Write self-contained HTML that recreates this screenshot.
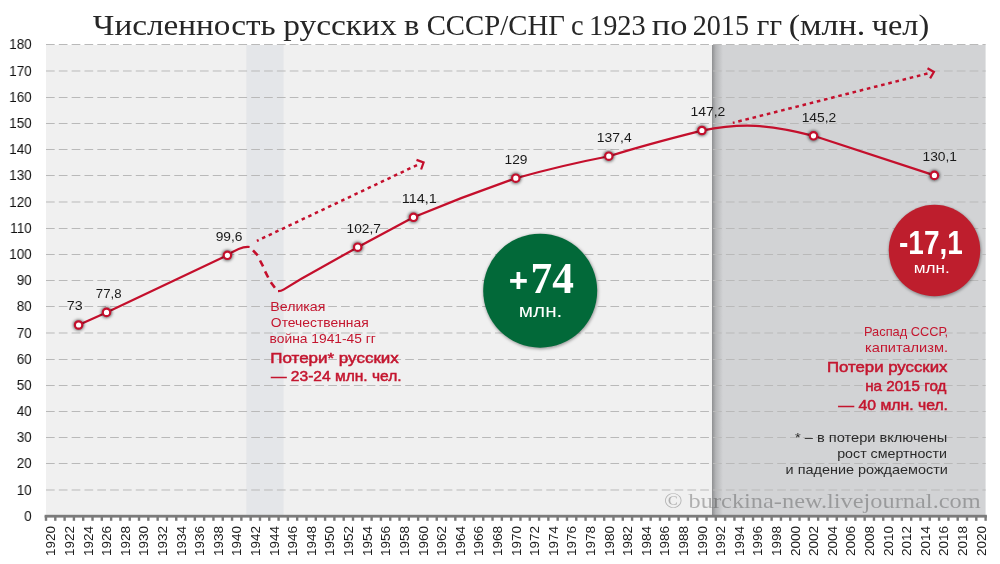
<!DOCTYPE html>
<html><head><meta charset="utf-8"><title>Численность русских в СССР/СНГ</title>
<style>
html,body{margin:0;padding:0;background:#fff;}
body{width:1000px;height:564px;overflow:hidden;position:relative;}
svg{display:block;position:absolute;left:0;top:0;will-change:transform;}
text{white-space:pre;}
</style></head><body>
<svg width="1000" height="564" viewBox="0 0 1000 564">
<defs>
<linearGradient id="shade" x1="0" x2="1" y1="0" y2="0">
<stop offset="0" stop-color="#8e8f91"/>
<stop offset="0.35" stop-color="#b4b5b7"/>
<stop offset="1" stop-color="#d2d3d5"/>
</linearGradient>
<filter id="mshadow" x="-1" y="-1" width="3" height="3"><feGaussianBlur stdDeviation="1.6"/></filter>
<filter id="cshadow" x="-0.2" y="-0.2" width="1.4" height="1.4"><feGaussianBlur stdDeviation="1.5"/></filter>
</defs>
<g id="bg">

<rect x="46" y="45" width="939.5" height="470.9" fill="#f0f0f0"/>
<rect x="246.3" y="45" width="37.3" height="470.9" fill="#e4e6e9"/>
<rect x="712" y="45" width="273.5" height="470.9" fill="#d2d3d5"/>
<rect x="712" y="45" width="11" height="470.9" fill="url(#shade)"/>
<g stroke="#b9b9b9" stroke-width="1" stroke-dasharray="8.7 4.128"><line x1="46" x2="985.7" y1="490.0" y2="490.0"/><line x1="46" x2="985.7" y1="463.5" y2="463.5"/><line x1="46" x2="985.7" y1="437.5" y2="437.5"/><line x1="46" x2="985.7" y1="411.5" y2="411.5"/><line x1="46" x2="985.7" y1="385.5" y2="385.5"/><line x1="46" x2="985.7" y1="359.5" y2="359.5"/><line x1="46" x2="985.7" y1="333.0" y2="333.0"/><line x1="46" x2="985.7" y1="306.5" y2="306.5"/><line x1="46" x2="985.7" y1="280.5" y2="280.5"/><line x1="46" x2="985.7" y1="254.5" y2="254.5"/><line x1="46" x2="985.7" y1="228.5" y2="228.5"/><line x1="46" x2="985.7" y1="202.0" y2="202.0"/><line x1="46" x2="985.7" y1="175.5" y2="175.5"/><line x1="46" x2="985.7" y1="149.5" y2="149.5"/><line x1="46" x2="985.7" y1="123.5" y2="123.5"/><line x1="46" x2="985.7" y1="97.5" y2="97.5"/><line x1="46" x2="985.7" y1="71.0" y2="71.0"/><line x1="46" x2="985.7" y1="44.5" y2="44.5"/></g>
</g>
<text id="wm" x="663.98" y="508" font-family='"Liberation Serif","Times New Roman",serif' font-size="22" font-weight="normal" fill="#000" fill-opacity="0.27" textLength="316.72" lengthAdjust="spacingAndGlyphs">© burckina-new.livejournal.com</text>
<g id="axis">
<rect x="44.6" y="514.8" width="942.3" height="2.8" fill="#7b7b7b"/>
<g fill="#7b7b7b"><rect x="44.80" y="516" width="2.4" height="4.8"/><rect x="54.10" y="516" width="2.4" height="4.8"/><rect x="63.41" y="516" width="2.4" height="4.8"/><rect x="72.71" y="516" width="2.4" height="4.8"/><rect x="82.01" y="516" width="2.4" height="4.8"/><rect x="91.31" y="516" width="2.4" height="4.8"/><rect x="100.62" y="516" width="2.4" height="4.8"/><rect x="109.92" y="516" width="2.4" height="4.8"/><rect x="119.22" y="516" width="2.4" height="4.8"/><rect x="128.53" y="516" width="2.4" height="4.8"/><rect x="137.83" y="516" width="2.4" height="4.8"/><rect x="147.13" y="516" width="2.4" height="4.8"/><rect x="156.44" y="516" width="2.4" height="4.8"/><rect x="165.74" y="516" width="2.4" height="4.8"/><rect x="175.04" y="516" width="2.4" height="4.8"/><rect x="184.35" y="516" width="2.4" height="4.8"/><rect x="193.65" y="516" width="2.4" height="4.8"/><rect x="202.95" y="516" width="2.4" height="4.8"/><rect x="212.25" y="516" width="2.4" height="4.8"/><rect x="221.56" y="516" width="2.4" height="4.8"/><rect x="230.86" y="516" width="2.4" height="4.8"/><rect x="240.16" y="516" width="2.4" height="4.8"/><rect x="249.47" y="516" width="2.4" height="4.8"/><rect x="258.77" y="516" width="2.4" height="4.8"/><rect x="268.07" y="516" width="2.4" height="4.8"/><rect x="277.38" y="516" width="2.4" height="4.8"/><rect x="286.68" y="516" width="2.4" height="4.8"/><rect x="295.98" y="516" width="2.4" height="4.8"/><rect x="305.28" y="516" width="2.4" height="4.8"/><rect x="314.59" y="516" width="2.4" height="4.8"/><rect x="323.89" y="516" width="2.4" height="4.8"/><rect x="333.19" y="516" width="2.4" height="4.8"/><rect x="342.50" y="516" width="2.4" height="4.8"/><rect x="351.80" y="516" width="2.4" height="4.8"/><rect x="361.10" y="516" width="2.4" height="4.8"/><rect x="370.41" y="516" width="2.4" height="4.8"/><rect x="379.71" y="516" width="2.4" height="4.8"/><rect x="389.01" y="516" width="2.4" height="4.8"/><rect x="398.31" y="516" width="2.4" height="4.8"/><rect x="407.62" y="516" width="2.4" height="4.8"/><rect x="416.92" y="516" width="2.4" height="4.8"/><rect x="426.22" y="516" width="2.4" height="4.8"/><rect x="435.53" y="516" width="2.4" height="4.8"/><rect x="444.83" y="516" width="2.4" height="4.8"/><rect x="454.13" y="516" width="2.4" height="4.8"/><rect x="463.44" y="516" width="2.4" height="4.8"/><rect x="472.74" y="516" width="2.4" height="4.8"/><rect x="482.04" y="516" width="2.4" height="4.8"/><rect x="491.34" y="516" width="2.4" height="4.8"/><rect x="500.65" y="516" width="2.4" height="4.8"/><rect x="509.95" y="516" width="2.4" height="4.8"/><rect x="519.25" y="516" width="2.4" height="4.8"/><rect x="528.56" y="516" width="2.4" height="4.8"/><rect x="537.86" y="516" width="2.4" height="4.8"/><rect x="547.16" y="516" width="2.4" height="4.8"/><rect x="556.46" y="516" width="2.4" height="4.8"/><rect x="565.77" y="516" width="2.4" height="4.8"/><rect x="575.07" y="516" width="2.4" height="4.8"/><rect x="584.37" y="516" width="2.4" height="4.8"/><rect x="593.68" y="516" width="2.4" height="4.8"/><rect x="602.98" y="516" width="2.4" height="4.8"/><rect x="612.28" y="516" width="2.4" height="4.8"/><rect x="621.59" y="516" width="2.4" height="4.8"/><rect x="630.89" y="516" width="2.4" height="4.8"/><rect x="640.19" y="516" width="2.4" height="4.8"/><rect x="649.50" y="516" width="2.4" height="4.8"/><rect x="658.80" y="516" width="2.4" height="4.8"/><rect x="668.10" y="516" width="2.4" height="4.8"/><rect x="677.40" y="516" width="2.4" height="4.8"/><rect x="686.71" y="516" width="2.4" height="4.8"/><rect x="696.01" y="516" width="2.4" height="4.8"/><rect x="705.31" y="516" width="2.4" height="4.8"/><rect x="714.62" y="516" width="2.4" height="4.8"/><rect x="723.92" y="516" width="2.4" height="4.8"/><rect x="733.22" y="516" width="2.4" height="4.8"/><rect x="742.52" y="516" width="2.4" height="4.8"/><rect x="751.83" y="516" width="2.4" height="4.8"/><rect x="761.13" y="516" width="2.4" height="4.8"/><rect x="770.43" y="516" width="2.4" height="4.8"/><rect x="779.74" y="516" width="2.4" height="4.8"/><rect x="789.04" y="516" width="2.4" height="4.8"/><rect x="798.34" y="516" width="2.4" height="4.8"/><rect x="807.65" y="516" width="2.4" height="4.8"/><rect x="816.95" y="516" width="2.4" height="4.8"/><rect x="826.25" y="516" width="2.4" height="4.8"/><rect x="835.56" y="516" width="2.4" height="4.8"/><rect x="844.86" y="516" width="2.4" height="4.8"/><rect x="854.16" y="516" width="2.4" height="4.8"/><rect x="863.46" y="516" width="2.4" height="4.8"/><rect x="872.77" y="516" width="2.4" height="4.8"/><rect x="882.07" y="516" width="2.4" height="4.8"/><rect x="891.37" y="516" width="2.4" height="4.8"/><rect x="900.68" y="516" width="2.4" height="4.8"/><rect x="909.98" y="516" width="2.4" height="4.8"/><rect x="919.28" y="516" width="2.4" height="4.8"/><rect x="928.59" y="516" width="2.4" height="4.8"/><rect x="937.89" y="516" width="2.4" height="4.8"/><rect x="947.19" y="516" width="2.4" height="4.8"/><rect x="956.49" y="516" width="2.4" height="4.8"/><rect x="965.80" y="516" width="2.4" height="4.8"/><rect x="975.10" y="516" width="2.4" height="4.8"/><rect x="984.40" y="516" width="2.4" height="4.8"/></g>
<g font-family='"Liberation Sans",Arial,sans-serif' font-size="14.4" fill="#111" text-anchor="end" transform="scale(0.94,1)"><text x="33.72" y="520.75">0</text><text x="33.72" y="494.55">10</text><text x="33.72" y="468.05">20</text><text x="33.72" y="442.05">30</text><text x="33.72" y="416.05">40</text><text x="33.72" y="390.05">50</text><text x="33.72" y="364.05">60</text><text x="33.72" y="337.55">70</text><text x="33.72" y="311.05">80</text><text x="33.72" y="285.05">90</text><text x="33.72" y="259.05">100</text><text x="33.72" y="233.05">110</text><text x="33.72" y="206.55">120</text><text x="33.72" y="180.05">130</text><text x="33.72" y="154.05">140</text><text x="33.72" y="128.05">150</text><text x="33.72" y="102.05">160</text><text x="33.72" y="75.55">170</text><text x="33.72" y="49.05">180</text></g>
<g font-family='"Liberation Sans",Arial,sans-serif' font-size="13.5" fill="#1a1a1a" text-anchor="end"><text transform="translate(55.4,525.9) rotate(-90)">1920</text><text transform="translate(74.0,525.9) rotate(-90)">1922</text><text transform="translate(92.6,525.9) rotate(-90)">1924</text><text transform="translate(111.2,525.9) rotate(-90)">1926</text><text transform="translate(129.8,525.9) rotate(-90)">1928</text><text transform="translate(148.4,525.9) rotate(-90)">1930</text><text transform="translate(167.0,525.9) rotate(-90)">1932</text><text transform="translate(185.6,525.9) rotate(-90)">1934</text><text transform="translate(204.2,525.9) rotate(-90)">1936</text><text transform="translate(222.8,525.9) rotate(-90)">1938</text><text transform="translate(241.4,525.9) rotate(-90)">1940</text><text transform="translate(260.0,525.9) rotate(-90)">1942</text><text transform="translate(278.6,525.9) rotate(-90)">1944</text><text transform="translate(297.2,525.9) rotate(-90)">1946</text><text transform="translate(315.8,525.9) rotate(-90)">1948</text><text transform="translate(334.4,525.9) rotate(-90)">1950</text><text transform="translate(353.0,525.9) rotate(-90)">1952</text><text transform="translate(371.7,525.9) rotate(-90)">1954</text><text transform="translate(390.3,525.9) rotate(-90)">1956</text><text transform="translate(408.9,525.9) rotate(-90)">1958</text><text transform="translate(427.5,525.9) rotate(-90)">1960</text><text transform="translate(446.1,525.9) rotate(-90)">1962</text><text transform="translate(464.7,525.9) rotate(-90)">1964</text><text transform="translate(483.3,525.9) rotate(-90)">1966</text><text transform="translate(501.9,525.9) rotate(-90)">1968</text><text transform="translate(520.5,525.9) rotate(-90)">1970</text><text transform="translate(539.1,525.9) rotate(-90)">1972</text><text transform="translate(557.7,525.9) rotate(-90)">1974</text><text transform="translate(576.3,525.9) rotate(-90)">1976</text><text transform="translate(594.9,525.9) rotate(-90)">1978</text><text transform="translate(613.5,525.9) rotate(-90)">1980</text><text transform="translate(632.1,525.9) rotate(-90)">1982</text><text transform="translate(650.7,525.9) rotate(-90)">1984</text><text transform="translate(669.3,525.9) rotate(-90)">1986</text><text transform="translate(688.0,525.9) rotate(-90)">1988</text><text transform="translate(706.6,525.9) rotate(-90)">1990</text><text transform="translate(725.2,525.9) rotate(-90)">1992</text><text transform="translate(743.8,525.9) rotate(-90)">1994</text><text transform="translate(762.4,525.9) rotate(-90)">1996</text><text transform="translate(781.0,525.9) rotate(-90)">1998</text><text transform="translate(799.6,525.9) rotate(-90)">2000</text><text transform="translate(818.2,525.9) rotate(-90)">2002</text><text transform="translate(836.8,525.9) rotate(-90)">2004</text><text transform="translate(855.4,525.9) rotate(-90)">2006</text><text transform="translate(874.0,525.9) rotate(-90)">2008</text><text transform="translate(892.6,525.9) rotate(-90)">2010</text><text transform="translate(911.2,525.9) rotate(-90)">2012</text><text transform="translate(929.8,525.9) rotate(-90)">2014</text><text transform="translate(948.4,525.9) rotate(-90)">2016</text><text transform="translate(967.0,525.9) rotate(-90)">2018</text><text transform="translate(985.7,525.9) rotate(-90)">2020</text></g>
</g><g id="lines">
<path d="M78.56,325.00 L106.47,312.42 L227.41,255.29 C235,250 241,246.6 248,246.8 L249.6,247.0" fill="none" stroke="#c40f2c" stroke-width="2.25" stroke-linecap="butt" stroke-linejoin="round"/>
<path d="M253.0,250.3 L257.7,255.4 M260.0,260.5 L263.1,266.3 M265.1,271.4 L268.2,277.5 M270.8,282.2 L274.9,287.7" fill="none" stroke="#c40f2c" stroke-width="2.6"/>
<path d="M278,291.1 C280,291.2 281.5,290.8 283.5,289.6 L301.4,278.8 L357.65,247.16 L413.47,217.29 Q463.99,196.08 515.80,178.24 Q561.86,165.29 608.83,156.23 Q645.67,144.61 701.86,130.55 C741.9,122.65 768.1,124.3 813.50,135.79 L934.44,175.36" fill="none" stroke="#c40f2c" stroke-width="2.25" stroke-linecap="butt" stroke-linejoin="round"/>
<path d="M256.9,240.9 L417.2,165.0" fill="none" stroke="#c40f2c" stroke-width="2.5" stroke-dasharray="3.5 3.8" stroke-dashoffset="1.55"/>
<path d="M416.5,159.9 L423.6,162.4 L421.1,169.5" fill="none" stroke="#c40f2c" stroke-width="2.2" stroke-linejoin="miter"/>
<path d="M732.8,122.85 L927.6,73.5" fill="none" stroke="#c40f2c" stroke-width="2.5" stroke-dasharray="3.6 3.77" stroke-dashoffset="1.75"/>
<path d="M927.5,68.2 L933.9,72 L930.1,78.4" fill="none" stroke="#c40f2c" stroke-width="2.2" stroke-linejoin="miter"/>
<circle cx="78.6" cy="325.0" r="5.6" fill="#000" fill-opacity="0.55" filter="url(#mshadow)"/><circle cx="78.6" cy="325.0" r="3.7" fill="#fff" stroke="#c40f2c" stroke-width="2.2"/><circle cx="106.5" cy="312.4" r="5.6" fill="#000" fill-opacity="0.55" filter="url(#mshadow)"/><circle cx="106.5" cy="312.4" r="3.7" fill="#fff" stroke="#c40f2c" stroke-width="2.2"/><circle cx="227.4" cy="255.3" r="5.6" fill="#000" fill-opacity="0.55" filter="url(#mshadow)"/><circle cx="227.4" cy="255.3" r="3.7" fill="#fff" stroke="#c40f2c" stroke-width="2.2"/><circle cx="357.7" cy="247.2" r="5.6" fill="#000" fill-opacity="0.55" filter="url(#mshadow)"/><circle cx="357.7" cy="247.2" r="3.7" fill="#fff" stroke="#c40f2c" stroke-width="2.2"/><circle cx="413.5" cy="217.3" r="5.6" fill="#000" fill-opacity="0.55" filter="url(#mshadow)"/><circle cx="413.5" cy="217.3" r="3.7" fill="#fff" stroke="#c40f2c" stroke-width="2.2"/><circle cx="515.8" cy="178.2" r="5.6" fill="#000" fill-opacity="0.55" filter="url(#mshadow)"/><circle cx="515.8" cy="178.2" r="3.7" fill="#fff" stroke="#c40f2c" stroke-width="2.2"/><circle cx="608.8" cy="156.2" r="5.6" fill="#000" fill-opacity="0.55" filter="url(#mshadow)"/><circle cx="608.8" cy="156.2" r="3.7" fill="#fff" stroke="#c40f2c" stroke-width="2.2"/><circle cx="701.9" cy="130.5" r="5.6" fill="#000" fill-opacity="0.55" filter="url(#mshadow)"/><circle cx="701.9" cy="130.5" r="3.7" fill="#fff" stroke="#c40f2c" stroke-width="2.2"/><circle cx="813.5" cy="135.8" r="5.6" fill="#000" fill-opacity="0.55" filter="url(#mshadow)"/><circle cx="813.5" cy="135.8" r="3.7" fill="#fff" stroke="#c40f2c" stroke-width="2.2"/><circle cx="934.4" cy="175.4" r="5.6" fill="#000" fill-opacity="0.55" filter="url(#mshadow)"/><circle cx="934.4" cy="175.4" r="3.7" fill="#fff" stroke="#c40f2c" stroke-width="2.2"/>
</g>
<text id="d73" x="66.85" y="310.3" font-family='"Liberation Sans",Arial,sans-serif' font-size="13.5" font-weight="normal" fill="#1a1a1a" textLength="15.84" lengthAdjust="spacingAndGlyphs">73</text>
<text id="d778" x="95.86" y="298.3" font-family='"Liberation Sans",Arial,sans-serif' font-size="13.5" font-weight="normal" fill="#1a1a1a" textLength="25.67" lengthAdjust="spacingAndGlyphs">77,8</text>
<text id="d996" x="215.66" y="240.8" font-family='"Liberation Sans",Arial,sans-serif' font-size="13.5" font-weight="normal" fill="#1a1a1a" textLength="26.81" lengthAdjust="spacingAndGlyphs">99,6</text>
<text id="d1027" x="346.59" y="232.8" font-family='"Liberation Sans",Arial,sans-serif' font-size="13.5" font-weight="normal" fill="#1a1a1a" textLength="34.21" lengthAdjust="spacingAndGlyphs">102,7</text>
<text id="d1141" x="401.75" y="203" font-family='"Liberation Sans",Arial,sans-serif' font-size="13.5" font-weight="normal" fill="#1a1a1a" textLength="35.00" lengthAdjust="spacingAndGlyphs">114,1</text>
<text id="d129" x="504.49" y="163.7" font-family='"Liberation Sans",Arial,sans-serif' font-size="13.5" font-weight="normal" fill="#1a1a1a" textLength="22.96" lengthAdjust="spacingAndGlyphs">129</text>
<text id="d1374" x="596.85" y="142" font-family='"Liberation Sans",Arial,sans-serif' font-size="13.5" font-weight="normal" fill="#1a1a1a" textLength="34.85" lengthAdjust="spacingAndGlyphs">137,4</text>
<text id="d1472" x="690.40" y="116.4" font-family='"Liberation Sans",Arial,sans-serif' font-size="13.5" font-weight="normal" fill="#1a1a1a" textLength="34.96" lengthAdjust="spacingAndGlyphs">147,2</text>
<text id="d1452" x="801.68" y="122" font-family='"Liberation Sans",Arial,sans-serif' font-size="13.5" font-weight="normal" fill="#1a1a1a" textLength="34.64" lengthAdjust="spacingAndGlyphs">145,2</text>
<text id="d1301" x="922.46" y="161.2" font-family='"Liberation Sans",Arial,sans-serif' font-size="13.5" font-weight="normal" fill="#1a1a1a" textLength="34.54" lengthAdjust="spacingAndGlyphs">130,1</text>
<text id="w1" x="270.25" y="310.7" font-family='"Liberation Sans",Arial,sans-serif' font-size="13.4" font-weight="normal" fill="#c4162f" textLength="55.22" lengthAdjust="spacingAndGlyphs">Великая</text>
<text id="w2" x="270.86" y="326.7" font-family='"Liberation Sans",Arial,sans-serif' font-size="13.4" font-weight="normal" fill="#c4162f" textLength="97.78" lengthAdjust="spacingAndGlyphs">Отечественная</text>
<text id="w3" x="269.63" y="342.8" font-family='"Liberation Sans",Arial,sans-serif' font-size="13.4" font-weight="normal" fill="#c4162f" textLength="106.26" lengthAdjust="spacingAndGlyphs">война 1941-45 гг</text>
<text id="w4" x="270.26" y="363" font-family='"Liberation Sans",Arial,sans-serif' font-size="15" font-weight="normal" fill="#c4162f" stroke="#c4162f" stroke-width="0.5" textLength="128.58" lengthAdjust="spacingAndGlyphs">Потери* русских</text>
<text id="w5" x="271.00" y="381.3" font-family='"Liberation Sans",Arial,sans-serif' font-size="15" font-weight="normal" fill="#c4162f" stroke="#c4162f" stroke-width="0.5" textLength="130.60" lengthAdjust="spacingAndGlyphs">— 23-24 млн. чел.</text>
<text id="r1" x="864.00" y="335.9" font-family='"Liberation Sans",Arial,sans-serif' font-size="13.4" font-weight="normal" fill="#c4162f" textLength="84.17" lengthAdjust="spacingAndGlyphs">Распад СССР,</text>
<text id="r2" x="865.09" y="351.9" font-family='"Liberation Sans",Arial,sans-serif' font-size="13.4" font-weight="normal" fill="#c4162f" textLength="82.91" lengthAdjust="spacingAndGlyphs">капитализм.</text>
<text id="r3" x="827.05" y="371.8" font-family='"Liberation Sans",Arial,sans-serif' font-size="14.5" font-weight="normal" fill="#c4162f" stroke="#c4162f" stroke-width="0.5" textLength="120.36" lengthAdjust="spacingAndGlyphs">Потери русских</text>
<text id="r4" x="865.17" y="390.9" font-family='"Liberation Sans",Arial,sans-serif' font-size="14.5" font-weight="normal" fill="#c4162f" stroke="#c4162f" stroke-width="0.5" textLength="81.19" lengthAdjust="spacingAndGlyphs">на 2015 год</text>
<text id="r5" x="838.31" y="409.5" font-family='"Liberation Sans",Arial,sans-serif' font-size="14.5" font-weight="normal" fill="#c4162f" stroke="#c4162f" stroke-width="0.5" textLength="109.68" lengthAdjust="spacingAndGlyphs">— 40 млн. чел.</text>
<text id="f1" x="795.05" y="441.6" font-family='"Liberation Sans",Arial,sans-serif' font-size="13.2" font-weight="normal" fill="#2a2a2a" textLength="152.29" lengthAdjust="spacingAndGlyphs">* – в потери включены</text>
<text id="f2" x="837.18" y="457.8" font-family='"Liberation Sans",Arial,sans-serif' font-size="13.2" font-weight="normal" fill="#2a2a2a" textLength="109.81" lengthAdjust="spacingAndGlyphs">рост смертности</text>
<text id="f3" x="785.62" y="474" font-family='"Liberation Sans",Arial,sans-serif' font-size="13.2" font-weight="normal" fill="#2a2a2a" textLength="162.21" lengthAdjust="spacingAndGlyphs">и падение рождаемости</text>
<g id="circles">
<circle cx="540.7" cy="291.7" r="57.5" fill="#000" fill-opacity="0.35" filter="url(#cshadow)"/>
<circle cx="540.2" cy="290.7" r="57" fill="#026939"/>
<circle cx="935" cy="251.6" r="46.2" fill="#000" fill-opacity="0.35" filter="url(#cshadow)"/>
<circle cx="934.5" cy="250.6" r="45.75" fill="#be1e2d"/>
</g>
<text id="g1a" x="508.63" y="291.9" font-family='"Liberation Sans",Arial,sans-serif' font-size="33.7" font-weight="bold" fill="#fff" textLength="19.34" lengthAdjust="spacingAndGlyphs">+</text>
<text id="g1" x="530.61" y="293.3" font-family='"Liberation Serif","Times New Roman",serif' font-size="45.2" font-weight="bold" fill="#fff" textLength="43.36" lengthAdjust="spacingAndGlyphs">74</text>
<text id="g2" x="518.86" y="316.5" font-family='"Liberation Sans",Arial,sans-serif' font-size="18.7" font-weight="normal" fill="#fff" textLength="43.51" lengthAdjust="spacingAndGlyphs">млн.</text>
<text id="c1" x="899.05" y="254.2" font-family='"Liberation Sans",Arial,sans-serif' font-size="32.7" font-weight="bold" fill="#fff" textLength="63.70" lengthAdjust="spacingAndGlyphs">-17,1</text>
<text id="c2" x="913.67" y="272.8" font-family='"Liberation Sans",Arial,sans-serif' font-size="15.5" font-weight="normal" fill="#fff" textLength="36.05" lengthAdjust="spacingAndGlyphs">млн.</text>
<text id="t0" x="92.82" y="34.8" font-family='"Liberation Serif","Times New Roman",serif' font-size="29.5" font-weight="normal" fill="#262626" textLength="182.95" lengthAdjust="spacingAndGlyphs">Численность</text>
<text id="t1" x="283.21" y="34.8" font-family='"Liberation Serif","Times New Roman",serif' font-size="29.5" font-weight="normal" fill="#262626" textLength="113.53" lengthAdjust="spacingAndGlyphs">русских</text>
<text id="t2" x="404.06" y="34.8" font-family='"Liberation Serif","Times New Roman",serif' font-size="29.5" font-weight="normal" fill="#262626" textLength="15.45" lengthAdjust="spacingAndGlyphs">в</text>
<text id="t3" x="426.66" y="34.8" font-family='"Liberation Serif","Times New Roman",serif' font-size="29.5" font-weight="normal" fill="#262626" textLength="138.23" lengthAdjust="spacingAndGlyphs">СССР/СНГ</text>
<text id="t4" x="571.08" y="34.8" font-family='"Liberation Serif","Times New Roman",serif' font-size="29.5" font-weight="normal" fill="#262626" textLength="12.62" lengthAdjust="spacingAndGlyphs">с</text>
<text id="t5" x="589.02" y="34.8" font-family='"Liberation Serif","Times New Roman",serif' font-size="29.5" font-weight="normal" fill="#262626" textLength="56.64" lengthAdjust="spacingAndGlyphs">1923</text>
<text id="t6" x="651.89" y="34.8" font-family='"Liberation Serif","Times New Roman",serif' font-size="29.5" font-weight="normal" fill="#262626" textLength="35.67" lengthAdjust="spacingAndGlyphs">по</text>
<text id="t7" x="692.74" y="34.8" font-family='"Liberation Serif","Times New Roman",serif' font-size="29.5" font-weight="normal" fill="#262626" textLength="56.21" lengthAdjust="spacingAndGlyphs">2015</text>
<text id="t8" x="756.85" y="34.8" font-family='"Liberation Serif","Times New Roman",serif' font-size="29.5" font-weight="normal" fill="#262626" textLength="25.15" lengthAdjust="spacingAndGlyphs">гг</text>
<text id="t9" x="788.66" y="34.8" font-family='"Liberation Serif","Times New Roman",serif' font-size="29.5" font-weight="normal" fill="#262626" textLength="76.59" lengthAdjust="spacingAndGlyphs">(млн.</text>
<text id="t10" x="871.79" y="34.8" font-family='"Liberation Serif","Times New Roman",serif' font-size="29.5" font-weight="normal" fill="#262626" textLength="57.42" lengthAdjust="spacingAndGlyphs">чел)</text>
</svg>
</body></html>
